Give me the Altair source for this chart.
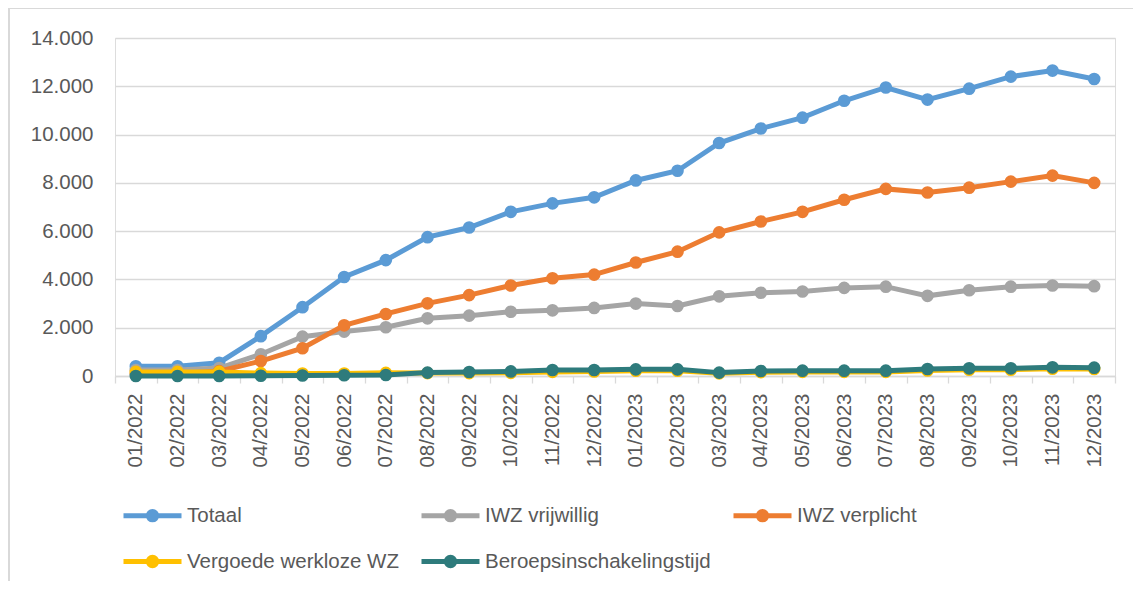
import altair as alt
import pandas as pd

months = ["01/2022", "02/2022", "03/2022", "04/2022", "05/2022", "06/2022",
          "07/2022", "08/2022", "09/2022", "10/2022", "11/2022", "12/2022",
          "01/2023", "02/2023", "03/2023", "04/2023", "05/2023", "06/2023",
          "07/2023", "08/2023", "09/2023", "10/2023", "11/2023", "12/2023"]

series_names = ["Totaal", "IWZ vrijwillig", "IWZ verplicht",
                "Vergoede werkloze WZ", "Beroepsinschakelingstijd"]
series_colors = ["#5B9BD5", "#A5A5A5", "#ED7D31", "#FFC000", "#2E7B7C"]

totaal = [400, 400, 550, 1650, 2850, 4100, 4800, 5750, 6150, 6800, 7150, 7400,
          8100, 8500, 9650, 10250, 10700, 11400, 11950, 11450, 11900, 12400, 12650, 12300]
iwz_vrijwillig = [250, 250, 330, 900, 1630, 1840, 2020, 2390, 2500, 2660, 2720, 2820,
                  3000, 2900, 3300, 3450, 3500, 3650, 3700, 3320, 3550, 3700, 3750, 3720]
iwz_verplicht = [100, 100, 200, 620, 1150, 2100, 2570, 3010, 3350, 3750, 4050, 4200,
                 4700, 5150, 5950, 6400, 6800, 7300, 7750, 7600, 7800, 8050, 8300, 8000]
vergoede = [170, 170, 170, 120, 100, 100, 130, 120, 120, 130, 170, 190,
            220, 220, 110, 160, 170, 170, 170, 230, 260, 260, 300, 290]
beroeps = [0, 0, 0, 10, 20, 30, 40, 140, 165, 190, 250, 250,
           275, 275, 140, 207, 220, 220, 220, 290, 318, 318, 360, 345]

values = [totaal, iwz_vrijwillig, iwz_verplicht, vergoede, beroeps]
y_ticks = [0, 2000, 4000, 6000, 8000, 10000, 12000, 14000]

rows = []
for name, vals in zip(series_names, values):
    for m, v in zip(months, vals):
        rows.append({"Maand": m, "Reeks": name, "Aantal": v})
df = pd.DataFrame(rows)

FONT = "Liberation Sans"
GREY_TXT = "#595959"
GRID = "#D9D9D9"

color = alt.Color(
    "Reeks:N",
    scale=alt.Scale(domain=series_names, range=series_colors),
    legend=alt.Legend(
        title=None,
        orient="none",
        legendX=25,
        legendY=465,
        direction="horizontal",
        columns=3,
        columnPadding=12,
        rowPadding=17,
        symbolType="M-2.9,0L2.9,0M-0.42,0A0.42,0.42 0 1,0 0.42,0A0.42,0.42 0 1,0 -0.42,0",
        symbolSize=400,
        symbolStrokeWidth=5,
        labelOffset=22,
        labelFont=FONT,
        labelFontSize=20.5,
        labelColor=GREY_TXT,
        labelLimit=400,
        padding=0,
    ),
)

x = alt.X(
    "Maand:N",
    sort=months,
    scale=alt.Scale(type="band", paddingInner=0, paddingOuter=0),
    axis=alt.Axis(
        title=None,
        labelAngle=270,
        labelAlign="right",
        labelBaseline="middle",
        labelFont=FONT,
        labelFontSize=20.5,
        labelColor=GREY_TXT,
        labelPadding=10,
        domainColor=GRID,
        domainWidth=1.3,
        tickColor=GRID,
        tickWidth=1.3,
        tickSize=7,
        tickBand="extent",
        grid=False,
    ),
)
y = alt.Y(
    "Aantal:Q",
    scale=alt.Scale(domain=[0, 14000], nice=False),
    axis=alt.Axis(
        title=None,
        values=y_ticks,
        labelExpr="replace(format(datum.value, ',d'), ',', '.')",
        labelFont=FONT,
        labelFontSize=20.5,
        labelColor=GREY_TXT,
        labelPadding=22,
        ticks=False,
        domain=False,
        grid=True,
        gridColor=GRID,
        gridWidth=1.3,
    ),
)

layers = []
for name in series_names:
    base = alt.Chart(df).transform_filter(alt.datum.Reeks == name)
    layers.append(base.mark_line(strokeWidth=5).encode(x=x, y=y, color=color))
    layers.append(base.mark_circle(size=160, opacity=1).encode(x=x, y=y, color=color))

frame_left = alt.Chart(df).mark_rule(color=GRID, strokeWidth=1.5).encode(
    x=alt.value(-106), y=alt.value(-30), y2=alt.value(700))
frame_top = alt.Chart(df).mark_rule(color=GRID, strokeWidth=1.5).encode(
    x=alt.value(-106), x2=alt.value(1100), y=alt.value(-30))

chart = alt.layer(frame_left, frame_top, *layers).properties(
    width=1000,
    height=338,
    autosize=alt.AutoSizeParams(type="none"),
    padding={"left": 107, "top": 30, "right": 18, "bottom": 205},
).configure_view(stroke=None).configure(background="white")

chart.save("out.html", embed_options={"renderer": "svg", "actions": False})
